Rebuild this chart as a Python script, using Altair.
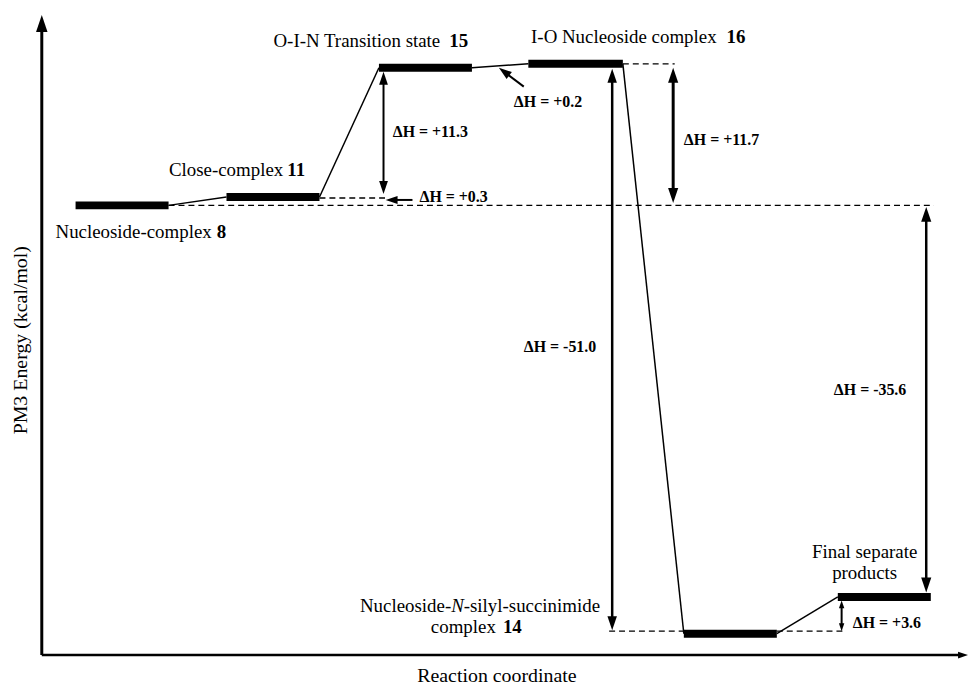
import altair as alt
import pandas as pd

FONT = "Liberation Serif"

# ---------------- data ----------------
# energy levels (drawn position; diagram is not to scale)
level_names = ["Nucleoside-complex 8", "Close-complex 11", "O-I-N Transition state 15",
               "I-O Nucleoside complex 16", "Nucleoside-N-silyl-succinimide complex 14",
               "Final separate products"]
level_x_start = [0.00, 0.99, 1.99, 2.97, 3.99, 5.00]
level_x_end = [0.61, 1.60, 2.60, 3.59, 4.60, 5.61]
level_y = [0.00, 0.71, 11.64, 11.97, -36.22, -33.11]

# dashed reference lines
dash_x_start = [0.61, 1.60, 3.59, 3.50, 4.60]
dash_x_end = [5.63, 2.03, 3.93, 3.99, 5.03]
dash_y = [0.00, 0.63, 11.97, -36.00, -36.00]

# double-headed vertical arrows
darrow_x = [2.02, 3.92, 3.52, 5.58, 5.025]
darrow_top = [11.30, 11.64, 11.55, -0.13, -33.40]
darrow_bottom = [0.97, 0.21, -35.92, -32.73, -36.00]
darrow_width = [2.0, 3.0, 2.5, 2.5, 2.0]
darrow_head = [13, 15, 14, 15, 8]

# single pointer arrows (from -> tip)
sarrow_x_from = [2.21, 2.94]
sarrow_y_from = [0.46, 10.04]
sarrow_x_tip = [2.034, 2.777]
sarrow_y_tip = [0.46, 11.64]
sarrow_angle = [270, 307]
sarrow_head = [12, 13]

# enthalpy labels
dh_text = ["ΔH = +11.3", "ΔH = +0.3", "ΔH = +0.2", "ΔH = +11.7",
           "ΔH = -51.0", "ΔH = -35.6", "ΔH = +3.6"]
dh_x = [2.080, 2.256, 2.875, 3.990, 2.940, 4.974, 5.098]
dh_y = [6.18, 0.71, 8.78, 5.50, -11.97, -15.59, -35.34]

# level labels: regular part (right-aligned) + bold number (left-aligned)
lab_text = ["Nucleoside-complex", "Close-complex", "O-I-N Transition state",
            "I-O Nucleoside complex", "complex"]
lab_x = [0.893, 1.362, 2.392, 4.205, 2.757]
lab_y = [-2.23, 2.98, 13.91, 14.24, -35.67]
num_text = ["8", "11", "15", "16", "14"]
num_x = [0.926, 1.389, 2.451, 4.270, 2.803]

# centred labels
cen_text = ["Final separate", "products"]
cen_x = [5.176, 5.176]
cen_y = [-29.29, -31.05]

# "Nucleoside-N-silyl-succinimide" line (italic N)
nsil_x = 2.505
nsil_y = -33.91

x_title = "Reaction coordinate"
y_title = "PM3 Energy (kcal/mol)"

# ---------------- scales ----------------
X_MIN, X_MAX = -0.2216, 5.854
Y_MIN, Y_MAX = -38.025, 16.092
W, H = 932, 644
ppx = W / (X_MAX - X_MIN)
ppy = H / (Y_MAX - Y_MIN)

xs = alt.Scale(domain=[X_MIN, X_MAX], nice=False, zero=False)
ys = alt.Scale(domain=[Y_MIN, Y_MAX], nice=False, zero=False)

def X(f="x"):
    return alt.X(f"{f}:Q", scale=xs, axis=None)

def Y(f="y"):
    return alt.Y(f"{f}:Q", scale=ys, axis=None)

HEAD = "M0,0L0.34,1L-0.34,1Z"  # tip at origin, pointing up

# ---------------- layers ----------------
levels = pd.DataFrame({"name": level_names, "x": level_x_start, "x2": level_x_end, "y": level_y})
level_layer = alt.Chart(levels).mark_rule(strokeWidth=8, strokeCap="butt", color="black").encode(
    x=X(), x2="x2:Q", y=Y())

conn = pd.DataFrame({"x": level_x_end[:-1], "y": level_y[:-1],
                     "x2": level_x_start[1:], "y2": level_y[1:]})
conn_layer = alt.Chart(conn).mark_rule(strokeWidth=1.5, color="black").encode(
    x=X(), y=Y(), x2="x2:Q", y2="y2:Q")

dash = pd.DataFrame({"x": dash_x_start, "x2": dash_x_end, "y": dash_y})
dash_layer = alt.Chart(dash).mark_rule(strokeWidth=1.4, strokeDash=[6, 4], color="black").encode(
    x=X(), x2="x2:Q", y=Y())

# double arrows: shafts and heads
shaft_rows, head_rows = [], []
for xv, t, b, w, hd in zip(darrow_x, darrow_top, darrow_bottom, darrow_width, darrow_head):
    off = hd * 0.6 / ppy
    shaft_rows.append({"x": xv, "y": t - off, "y2": b + off, "w": w})
    head_rows.append({"x": xv, "y": t, "a": 0, "s": 4 * hd * hd})
    head_rows.append({"x": xv, "y": b, "a": 180, "s": 4 * hd * hd})
for xf, yf, xt, yt, ang, hd in zip(sarrow_x_from, sarrow_y_from, sarrow_x_tip, sarrow_y_tip,
                                   sarrow_angle, sarrow_head):
    dxp, dyp = (xf - xt) * ppx, (yf - yt) * ppy
    ln = (dxp ** 2 + dyp ** 2) ** 0.5
    k = hd * 0.6 / ln
    shaft_rows.append({"x": xf, "y": yf, "x2": xt + (xf - xt) * k, "y2": yt + (yf - yt) * k, "w": 2.0})
    head_rows.append({"x": xt, "y": yt, "a": ang, "s": 4 * hd * hd})

# axes (arrows)
shaft_rows.append({"x": X_MIN, "y": Y_MIN, "x2": X_MIN, "y2": Y_MAX - 17 * 0.6 / ppy, "w": 3.0})
shaft_rows.append({"x": X_MIN, "y": Y_MIN, "x2": X_MAX - 10 * 0.6 / ppx, "y2": Y_MIN, "w": 2.6})
head_rows.append({"x": X_MIN, "y": Y_MAX, "a": 0, "s": 4 * 17 * 17})
head_rows.append({"x": X_MAX, "y": Y_MIN, "a": 90, "s": 4 * 10 * 10})

shafts = pd.DataFrame(shaft_rows)
shafts["x2"] = shafts["x2"].fillna(shafts["x"])
shaft_layer = alt.Chart(shafts).mark_rule(color="black", strokeCap="butt").encode(
    x=X(), y=Y(), x2="x2:Q", y2="y2:Q", strokeWidth=alt.StrokeWidth("w:Q", scale=None))

heads = pd.DataFrame(head_rows)
head_layer = alt.Chart(heads).mark_point(shape=HEAD, filled=True, opacity=1, color="black",
                                         strokeWidth=0).encode(
    x=X(), y=Y(), angle=alt.Angle("a:Q", scale=None), size=alt.Size("s:Q", scale=None))

def text_layer(texts, xsv, ysv, **kw):
    df = pd.DataFrame({"t": texts, "x": xsv, "y": ysv})
    return alt.Chart(df).mark_text(font=FONT, color="black", baseline="middle", **kw).encode(
        x=X(), y=Y(), text="t:N")

lab_layer = text_layer(lab_text, lab_x, lab_y, align="right", fontSize=19)
num_layer = text_layer(num_text, num_x, lab_y, align="left", fontSize=19, fontWeight="bold")
cen_layer = text_layer(cen_text, cen_x, cen_y, align="center", fontSize=19)
dh_layer = text_layer(dh_text, dh_x, dh_y, align="left", fontSize=16, fontWeight="bold")
n1 = text_layer(["Nucleoside-"], [nsil_x], [nsil_y], align="right", fontSize=19, dx=-6.3)
n2 = text_layer(["N"], [nsil_x], [nsil_y], align="center", fontSize=19, fontStyle="italic")
n3 = text_layer(["-silyl-succinimide"], [nsil_x], [nsil_y], align="left", fontSize=19, dx=6.3)
xt_layer = text_layer([x_title], [2.764], [-39.79], align="center", fontSize=20)
yt_layer = text_layer([y_title], [-0.355], [-11.40], align="center", fontSize=20, angle=270)

chart = alt.layer(
    dash_layer, conn_layer, level_layer, shaft_layer, head_layer,
    lab_layer, num_layer, cen_layer, dh_layer, n1, n2, n3, xt_layer, yt_layer
).properties(
    width=W, height=H,
    autosize=alt.AutoSizeParams(type="none"),
    padding={"left": 34, "top": 5, "right": 0, "bottom": 30},
    background="white",
).configure_view(stroke=None)

chart.save("out.html", embed_options={"renderer": "svg", "actions": False})
